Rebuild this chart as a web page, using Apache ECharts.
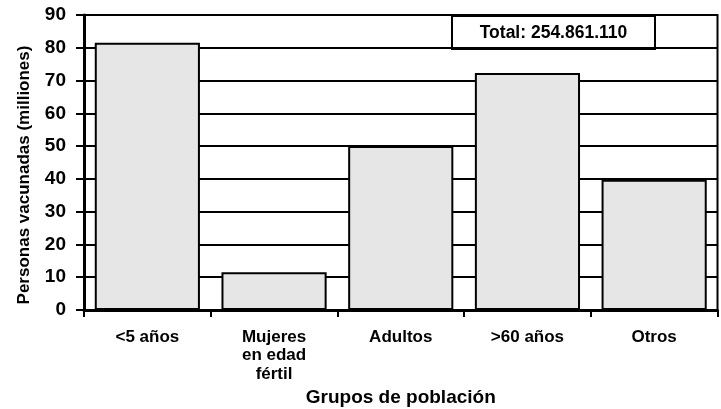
<!DOCTYPE html>
<html>
<head>
<meta charset="utf-8">
<script src="https://cdn.jsdelivr.net/npm/echarts@6/dist/echarts.min.js"></script>
<style>
  html, body { margin: 0; padding: 0; background: #fff; }
  #chart { width: 721px; height: 409px; }
</style>
</head>
<body>
<div id="chart"></div>
<script>
// grupos de población
var categories = ["<5 años", "Mujeres\nen edad\nfértil", "Adultos", ">60 años", "Otros"];
// personas vacunadas, millones
var vacunadas = [81.5, 11.5, 50, 72.3, 39.7];
var yTicks = [0, 10, 20, 30, 40, 50, 60, 70, 80, 90];
var totalText = "Total: 254.861.110";
var yName = "Personas vacunadas (milliones)";
var xName = "Grupos de población";

var font = "Liberation Sans, Arial, sans-serif";

var chart = echarts.init(document.getElementById("chart"));

var option = {
  backgroundColor: "#fff",
  animation: false,
  textStyle: { fontFamily: font },
  grid: {
    left: 84,
    right: 3.5,
    top: 15,
    bottom: 99,
    outerBoundsMode: "none",
    containLabel: false,
    show: true,
    borderColor: "#000",
    borderWidth: 2
  },
  xAxis: {
    type: "category",
    data: categories,
    name: xName,
    nameLocation: "middle",
    nameGap: 78,
    nameTextStyle: { fontFamily: font, fontWeight: "bold", fontSize: 19, color: "#000" },
    axisLine: { lineStyle: { color: "#000", width: 3 } },
    axisTick: { show: true, length: 7, lineStyle: { color: "#000", width: 2 } },
    axisLabel: {
      color: "#000",
      fontFamily: font,
      fontWeight: "bold",
      fontSize: 17,
      lineHeight: 18.5,
      margin: 18
    }
  },
  yAxis: {
    type: "value",
    min: yTicks[0],
    max: yTicks[yTicks.length - 1],
    interval: 10,
    axisLine: { show: true, lineStyle: { color: "#000", width: 3 } },
    axisTick: { show: true, inside: false, length: 8, lineStyle: { color: "#000", width: 2 } },
    axisLabel: {
      color: "#000",
      fontFamily: font,
      fontWeight: "bold",
      fontSize: 19,
      margin: 18
    },
    splitLine: { show: true, lineStyle: { color: "#000", width: 2 } }
  },
  series: [
    {
      type: "bar",
      data: vacunadas,
      barCategoryGap: "17%",
      itemStyle: {
        color: "#e6e6e6",
        borderColor: "#000",
        borderWidth: 2
      },
      silent: true
    }
  ],
  graphic: [
    {
      type: "text",
      x: 24,
      y: 175,
      rotation: Math.PI / 2,
      style: {
        text: yName,
        font: "bold 17px " + font,
        fill: "#000",
        align: "center",
        verticalAlign: "middle"
      }
    },
    {
      type: "group",
      left: 451,
      top: 15,
      children: [
        {
          type: "rect",
          shape: { x: 0, y: 0, width: 203, height: 33 },
          style: { fill: "#fff", stroke: "#000", lineWidth: 2 }
        },
        {
          type: "text",
          x: 101.5,
          y: 17,
          style: {
            text: totalText,
            font: "bold 17.5px " + font,
            fill: "#000",
            align: "center",
            verticalAlign: "middle"
          }
        }
      ]
    }
  ]
};

chart.setOption(option);
</script>
</body>
</html>
